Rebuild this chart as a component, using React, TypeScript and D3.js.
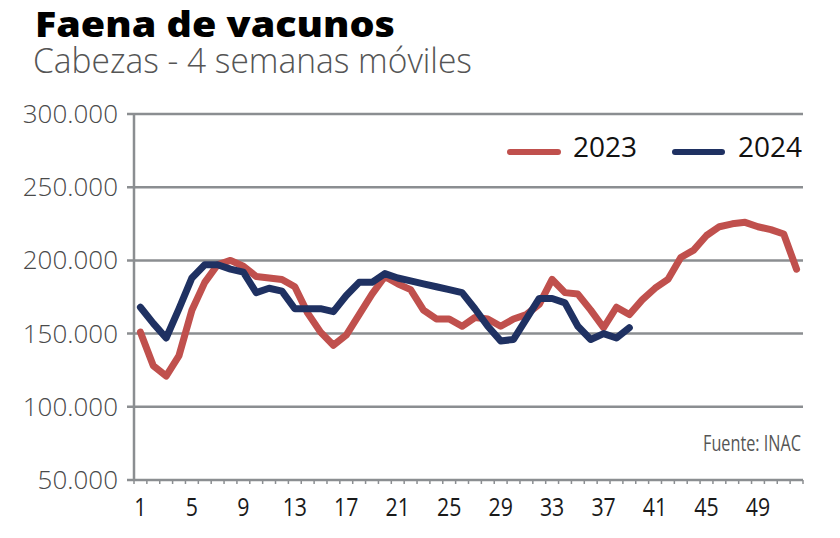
import React from 'react'
import * as d3 from 'd3'

// weekly slaughter, heads (4-week moving)
const weeks = d3.range(1, 53)
const y2023 = [
  151000, 128000, 121000, 135000, 166000, 185000, 197000, 200000, 196000, 189000,
  188000, 187000, 182000, 164000, 151000, 142000, 149000, 163000, 177000, 189000,
  184000, 180000, 166000, 160000, 160000, 155000, 161000, 160000, 155000, 160000,
  163000, 170000, 187000, 178000, 177000, 166000, 154000, 168000, 163000, 173000,
  181000, 187000, 202000, 207000, 217000, 223000, 225000, 226000, 223000, 221000,
  218000, 194000,
]
const y2024 = [
  168000, 157000, 147000, 167000, 188000, 197000, 197000, 194000, 192000, 178000,
  181000, 179000, 167000, 167000, 167000, 165000, 176000, 185000, 185000, 191000,
  188000, 186000, 184000, 182000, 180000, 178000, 167000, 155000, 145000, 146000,
  160000, 174000, 174000, 171000, 155000, 146000, 150000, 147000, 154000,
]
const yTicks = [50000, 100000, 150000, 200000, 250000, 300000]
const xLabels = [1, 5, 9, 13, 17, 21, 25, 29, 33, 37, 41, 45, 49]

const series = [
  { name: '2023', values: y2023, color: '#c0504d' },
  { name: '2024', values: y2024, color: '#1f3162' },
]

const W = 840
const H = 538
const left = 134
const right = 803
const top = 114
const bottom = 480
const gridColor = '#8b8e91'
const font = '"Open Sans", sans-serif'

const fmt = (v: number) => d3.format(',')(v).replace(/,/g, '.')

export default function App() {
  const x = d3.scaleBand<number>().domain(weeks).range([left, right])
  const y = d3.scaleLinear().domain([50000, 300000]).range([bottom, top])
  const cx = (w: number) => (x(w) ?? 0) + x.bandwidth() / 2

  const line = d3.line<number>()
    .x((_, i) => cx(weeks[i]))
    .y(d => y(d))

  return (
    <svg width={W} height={H} style={{ position: 'absolute', left: 0, top: 0, background: '#fff' }}>
      <text x={35} y={37} fontFamily={font} fontWeight={800} fontSize={36} fill='#000'
        textLength={360} lengthAdjust='spacingAndGlyphs'>
        Faena de vacunos
      </text>
      <text x={33} y={73} fontFamily={font} fontWeight={300} fontSize={34} fill='#555'
        textLength={439} lengthAdjust='spacingAndGlyphs'>
        Cabezas - 4 semanas móviles
      </text>

      {/* gridlines + y labels */}
      {yTicks.map(t => (
        <g key={t}>
          <line x1={127} x2={right} y1={y(t)} y2={y(t)} stroke={gridColor} strokeWidth={2.5} />
          <text x={118} y={y(t) + 9} textAnchor='end' fontFamily={font}
            fontWeight={300} fontSize={26} fill='#4a4a4a'>
            {fmt(t)}
          </text>
        </g>
      ))}
      <line x1={left} x2={left} y1={top} y2={bottom} stroke={gridColor} strokeWidth={2.5} />

      {/* x ticks */}
      {weeks.map(w => (
        <line key={w} x1={x(w)} x2={x(w)} y1={bottom} y2={bottom + 4} stroke={gridColor} strokeWidth={1.5} />
      ))}
      <line x1={right} x2={right} y1={bottom} y2={bottom + 4} stroke={gridColor} strokeWidth={1.5} />
      {xLabels.map(w => (
        <text key={w} transform={`translate(${cx(w)},516) scale(0.82,1)`} textAnchor='middle'
          fontFamily={font} fontSize={26} fill='#1a1a1a'>
          {w}
        </text>
      ))}

      {/* series */}
      {series.map(s => (
        <path key={s.name} d={line(s.values) ?? ''} fill='none' stroke={s.color}
          strokeWidth={7} strokeLinejoin='round' strokeLinecap='round' />
      ))}

      {/* legend */}
      <line x1={510} x2={558} y1={152} y2={152} stroke={series[0].color} strokeWidth={6} strokeLinecap='round' />
      <text x={573} y={157} fontFamily={font} fontSize={28} fill='#111'>2023</text>
      <line x1={675} x2={722} y1={152} y2={152} stroke={series[1].color} strokeWidth={6} strokeLinecap='round' />
      <text x={738} y={157} fontFamily={font} fontSize={28} fill='#111'>2024</text>

      <text x={703} y={451} fontFamily={font} fontSize={22} fill='#555'
        textLength={98} lengthAdjust='spacingAndGlyphs'>
        Fuente: INAC
      </text>
    </svg>
  )
}
